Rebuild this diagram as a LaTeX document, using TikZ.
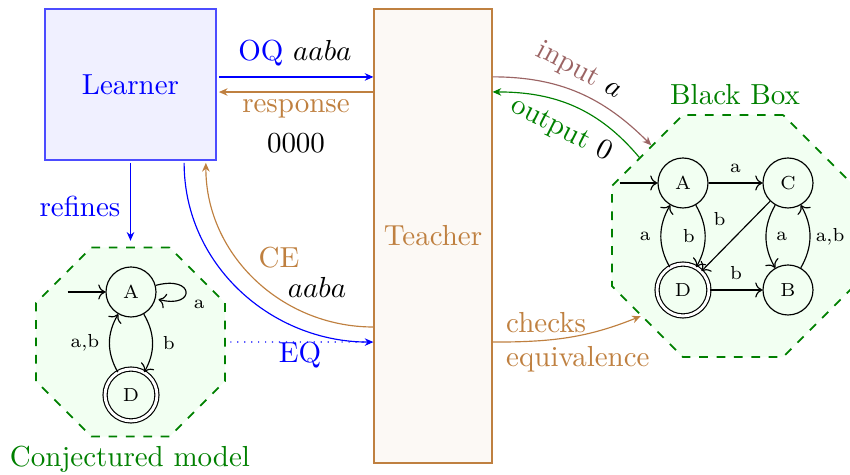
\documentclass[tikz,border=0pt]{standalone}
\usetikzlibrary{automata,shapes.geometric,arrows.meta,positioning}
\definecolor{inputcol}{RGB}{155,100,100}
\colorlet{dkgreen}{green!50!black}
\tikzset{
  box/.style={draw, inner sep=0pt, line width=0.4pt},
  octa/.style={regular polygon, regular polygon sides=8, draw=dkgreen, fill=green!5, dashed, line width=0.6pt, inner sep=0pt},
  st/.style={state, minimum size=17.25pt, inner sep=0pt, font=\fontsize{6.5}{7.5}\selectfont, line width=0.4pt},
  acc/.style={double, double distance=1pt, minimum size=17.9pt},
  el/.style={font=\fontsize{6.5}{7.5}\selectfont},
  marr/.style={-{Stealth[length=3pt,width=2.6pt]}, line width=0.4pt},
  aarr/.style={->, line width=0.4pt},
}
\begin{document}
\begin{tikzpicture}[x=0.345pt,y=0.345pt]
\useasboundingbox (0,0) rectangle (850,-475);
% main boxes
\node[box, draw=blue!70, fill=blue!6, minimum width=59pt, minimum height=52.1pt, text=blue, outer sep=1pt] (L) at (130.5,-84.5) {Learner};
\node[box, draw=brown, fill=brown!5, minimum width=40.7pt, minimum height=156.6pt, text=brown] (T) at (433,-236) {Teacher};
\node[octa, minimum size=70.6pt] (CM) at (130.5,-342) {};
\node[octa, minimum size=90.4pt] (BB) at (733,-236) {};
\node[text=dkgreen] (CMl) at (130,-459) {Conjectured model};
\node[text=dkgreen] (BBl) at (735,-95) {Black Box};
% conjectured model
\node[st] (cA) at (131,-292) {A};
\node[st, acc] (cD) at (131,-395) {D};
\coordinate[left=13pt of cA] (cI);
\draw[aarr] (cI) -- (cA);
\draw[aarr] (cA) edge[loop right] node[el, below right=-1pt] (la1) {a} (cA);
\draw[aarr] (cA) to[bend left] node[el, right] (lb1) {b} (cD);
\draw[aarr] (cD) to[bend left] node[el, left] (lab1) {a,b} (cA);
% black box
\node[st] (bA) at (683,-183) {A};
\node[st] (bC) at (788,-183) {C};
\node[st, acc] (bD) at (683,-290) {D};
\node[st] (bB) at (788,-290) {B};
\coordinate[left=13pt of bA] (bI);
\draw[aarr] (bI) -- (bA);
\draw[aarr] (bA) -- node[el, above] (l1) {a} (bC);
\draw[aarr] (bC) to[bend right] node[el, right] (l2) {a} (bB);
\draw[aarr] (bB) to[bend right] node[el, right, inner sep=1.8pt] (l3) {a,b} (bC);
\draw[aarr] (bA) to[bend left] node[el, left] (l4) {b} (bD);
\draw[aarr] (bD) to[bend left] node[el, left] (l5) {a} (bA);
\draw[aarr] (bC) -- node[el, above left] (l6) {b} (bD);
\draw[aarr] (bD) -- node[el, above] (l7) {b} (bB);
% learner <-> teacher
\draw[marr, blue] ([yshift=2.6pt]L.east) -- ([yshift=2.6pt]L.east -| T.west);
\draw[marr, brown] ([yshift=-2.6pt]L.east -| T.west) -- ([yshift=-2.6pt]L.east);
\node[text=blue] (oq) at (295,-53) {OQ \textcolor{black}{$aaba$}};
\node[text=brown] (resp) at (296,-109) {response};
\node (zero) at (296,-143) {0000};
\draw[marr, blue, shorten >=2pt] (L.south) -- (CM.north);
\node[text=blue] (ref) at (80,-206) {refines};
\draw[marr, blue] ([xshift=18.5pt]L.south) to[out=-90,in=180] ([yshift=-36.6pt]T.west);
\draw[marr, brown] ([yshift=-31.4pt]T.west) to[out=180,in=-90] ([xshift=26pt]L.south);
\draw[blue, dotted, shorten <=1.5pt] (CM.east) -- ([yshift=-36.6pt]T.west);
\node[text=blue] (eq) at (300,-355) {EQ};
\node[text=brown] (ce) at (279,-258) {CE};
\node (cew) at (317,-287) {$aaba$};
% teacher <-> black box
\draw[marr, inputcol] ([yshift=54.9pt]T.east) to[out=0,in=135] (BB.132);
\draw[marr, dkgreen] (BB.140) to[out=130,in=0] ([yshift=49.7pt]T.east);
\draw[marr, brown] ([yshift=-36.6pt]T.east) to[out=0,in=202] (BB.221);
\node[text=inputcol, rotate=-28] (inp) at (579,-71) {input \textcolor{black}{$a$}};
\node[text=dkgreen, rotate=-27] (outp) at (561,-130) {output \textcolor{black}{$0$}};
\node[text=brown, anchor=west] (chk) at (496,-323) {checks};
\node[text=brown, anchor=west] (equ) at (496,-359) {equivalence};
\end{tikzpicture}
\end{document}
